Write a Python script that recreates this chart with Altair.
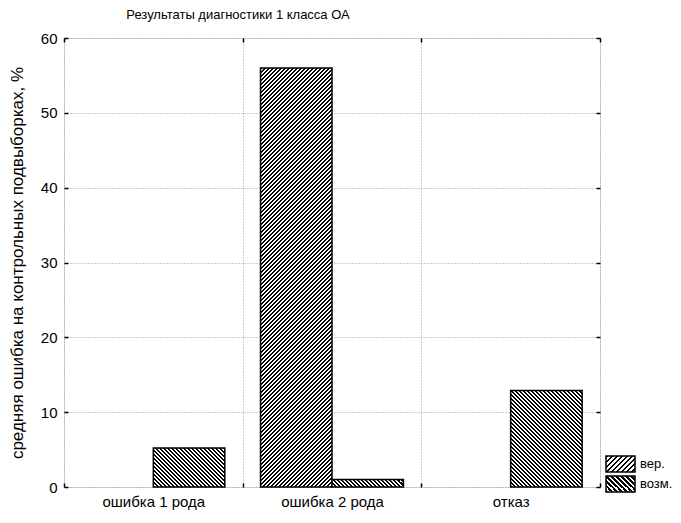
import altair as alt
import pandas as pd

# ---- data ----
categories = ["ошибка 1 рода", "ошибка 2 рода", "отказ"]
series = ["вер.", "возм."]
values_ver = [0.0, 56.0, 0.0]
values_vozm = [5.2, 1.0, 12.9]
y_ticks = [0, 10, 20, 30, 40, 50, 60]

title_text = "Результаты диагностики 1 класса ОА"
y_title = "средняя ошибка на контрольных подвыборках, %"

# ---- layout ----
W, H = 536, 449
FONT = "Liberation Sans"
Y_MAX = 60
PAD_OUTER = 0.25
hatch_dir = {"вер.": "/", "возм.": "\\"}

rows = []
for c, v in zip(categories, values_ver):
    rows.append({"cat": c, "series": "вер.", "value": v})
for c, v in zip(categories, values_vozm):
    rows.append({"cat": c, "series": "возм.", "value": v})
df = pd.DataFrame(rows)


def hatch(w, h, direction, period=4.0, frac=0.5):
    """Striped linear gradient drawn at 45 degrees inside a w x h box."""
    r = w / h
    t = (r + 1) / (r * r + 1)
    if direction == "/":
        x1, y1, x2, y2 = 0, 0, t * r, t
    else:
        x1, y1, x2, y2 = 0, 1, t * r, 1 - t
    n = (w + h) / period
    stops = []
    k = 0
    while k < n:
        o0 = k / n
        o1 = min((k + frac) / n, 1.0)
        o2 = min((k + 1) / n, 1.0)
        stops += [
            {"offset": o0, "color": "black"},
            {"offset": o1, "color": "black"},
            {"offset": o1, "color": "white"},
            {"offset": o2, "color": "white"},
        ]
        k += 1
    return {"gradient": "linear", "x1": x1, "y1": y1, "x2": x2, "y2": y2, "stops": stops}


xscale = alt.Scale(domain=categories, paddingInner=0, paddingOuter=0)
xoff_scale = alt.Scale(domain=series, paddingInner=0, paddingOuter=PAD_OUTER)
yscale = alt.Scale(domain=[0, Y_MAX], nice=False, zero=True)

bar_w = (W / len(categories)) / (len(series) + 2 * PAD_OUTER)

layers = []

# axis layer: bottom x axis + left y axis (inward ticks through negative offset)
axis_main = alt.Chart(df).mark_point(opacity=0).encode(
    x=alt.X("cat:N", sort=categories, scale=xscale, title=None,
            axis=alt.Axis(orient="bottom", offset=-4, tickSize=4, tickBand="extent",
                          tickColor="black", tickWidth=1.5, domain=False,
                          grid=True, gridColor="#9a9a9a", gridDash=[1, 2], gridWidth=1,
                          labelAngle=0, labelFont=FONT, labelFontSize=15, labelColor="black",
                          labelPadding=7)),
    y=alt.Y("value:Q", scale=yscale, title=y_title,
            axis=alt.Axis(orient="left", offset=-4, tickSize=4, values=y_ticks,
                          tickColor="black", tickWidth=1.5, domain=False,
                          grid=True, gridColor="#9a9a9a", gridDash=[1, 2], gridWidth=1,
                          labelFont=FONT, labelFontSize=15, labelColor="black",
                          labelPadding=7, format="d",
                          titleFont=FONT, titleFontSize=17, titleFontWeight="normal",
                          titleColor="black", titleX=-51, titleBaseline="middle")),
)
layers.append(axis_main)

# axis layer: top x axis + right y axis, ticks only
axis_opp = alt.Chart(df).mark_point(opacity=0).encode(
    x=alt.X("cat:N", sort=categories, scale=xscale, title=None,
            axis=alt.Axis(orient="top", offset=-4, tickSize=4, tickBand="extent",
                          tickColor="black", tickWidth=1.5, domain=False,
                          grid=False, labels=False)),
    y=alt.Y("value:Q", scale=yscale, title=None,
            axis=alt.Axis(orient="right", offset=-4, tickSize=4, values=y_ticks,
                          tickColor="black", tickWidth=1.5, domain=False,
                          grid=False, labels=False)),
)
layers.append(axis_opp)

# bars, one layer per bar so each gets its own hatch
for s in series:
    vals = values_ver if s == "вер." else values_vozm
    for c, v in zip(categories, vals):
        bh = v * H / Y_MAX
        fill = hatch(bar_w, bh, hatch_dir[s]) if bh > 0.5 else "white"
        layer = alt.Chart(df).transform_filter(
            (alt.datum.cat == c) & (alt.datum.series == s) & (alt.datum.value > 0)
        ).mark_bar(fill=fill, stroke="black", strokeWidth=1.5, opacity=1).encode(
            x=alt.X("cat:N", sort=categories, scale=xscale, axis=None),
            xOffset=alt.XOffset("series:N", sort=series, scale=xoff_scale),
            y=alt.Y("value:Q", scale=yscale, axis=None),
        )
        layers.append(layer)

# custom hatched legend
leg_df = pd.DataFrame({"series": series})
LX, LW, LH = 542, 29, 16
for i, s in enumerate(series):
    ly = 418 + i * 20
    sw = alt.Chart(leg_df).transform_filter(alt.datum.series == s).mark_rect(
        fill=hatch(LW, LH, hatch_dir[s], period=5.0), stroke="black", strokeWidth=1.5
    ).encode(
        x=alt.value(LX), x2=alt.value(LX + LW), y=alt.value(ly), y2=alt.value(ly + LH)
    )
    tx = alt.Chart(leg_df).transform_filter(alt.datum.series == s).mark_text(
        align="left", baseline="middle", font=FONT, fontSize=13, color="black"
    ).encode(
        x=alt.value(LX + LW + 5), y=alt.value(ly + LH / 2), text="series:N"
    )
    layers += [sw, tx]

chart = alt.layer(*layers).resolve_axis(x="independent", y="independent").properties(
    width=W,
    height=H,
    title=alt.TitleParams(title_text, font=FONT, fontSize=13, fontWeight="normal",
                          color="black", anchor="middle", dx=-94, offset=9),
    autosize=alt.AutoSizeParams(type="none"),
    padding={"left": 56, "top": 30, "right": 73, "bottom": 24},
).configure_view(stroke="black", strokeWidth=1.5).configure(background="white")

chart.save("out.html", embed_options={"renderer": "svg", "actions": False})
